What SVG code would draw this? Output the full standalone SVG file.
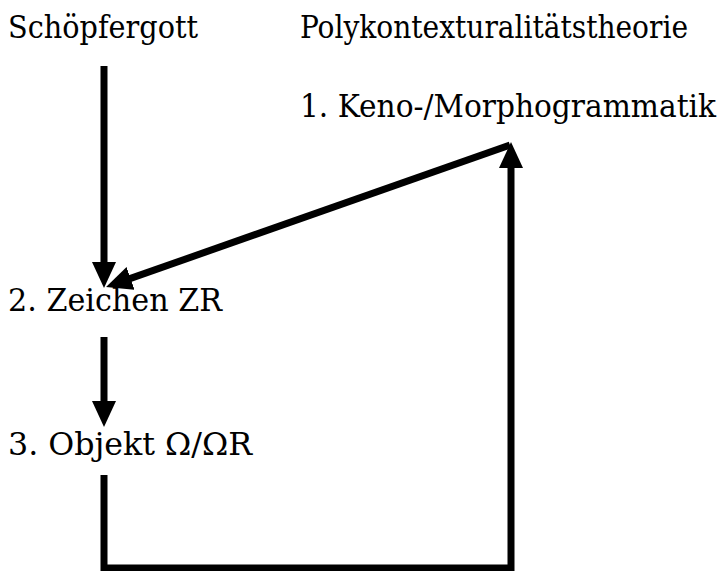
<svg xmlns="http://www.w3.org/2000/svg" width="723" height="571" viewBox="0 0 723 571">
  <style>
    text { font-family: 'DejaVu Serif Condensed', 'DejaVu Serif', serif; font-stretch: condensed; font-size: 31px; fill: #000; }
    .con { fill: none; stroke: #000; stroke-width: 7; stroke-linejoin: miter; stroke-linecap: butt; }
  </style>
  <defs>
    <marker id="ah" viewBox="0 0 26 24" refX="6" refY="12" markerWidth="26" markerHeight="24" markerUnits="userSpaceOnUse" orient="auto">
      <path d="M0,0 L26,12 L0,24 Z" fill="#000"/>
    </marker>
  </defs>
  <rect width="723" height="571" fill="#fff"/>
  <g id="connectors">
    <line class="con" x1="104" y1="66" x2="104" y2="268" marker-end="url(#ah)"/>
    <line class="con" x1="510" y1="145" x2="124.9" y2="280.4" marker-end="url(#ah)"/>
    <line class="con" x1="104" y1="337" x2="104" y2="407" marker-end="url(#ah)"/>
    <polyline class="con" points="104,475 104,568 511,568 511,162" marker-end="url(#ah)"/>
  </g>
  <g id="schoepfergott">
    <text x="8" y="38" textLength="190" lengthAdjust="spacingAndGlyphs">Schöpfergott</text>
  </g>
  <g id="polykontexturalitaetstheorie">
    <text x="300" y="38" textLength="388" lengthAdjust="spacingAndGlyphs">Polykontexturalitätstheorie</text>
  </g>
  <g id="keno">
    <text x="300" y="117" textLength="416" lengthAdjust="spacingAndGlyphs">1. Keno-/Morphogrammatik</text>
  </g>
  <g id="zeichen">
    <text x="8" y="311" textLength="214" lengthAdjust="spacingAndGlyphs">2. Zeichen ZR</text>
  </g>
  <g id="objekt">
    <text x="8" y="455" textLength="244" lengthAdjust="spacingAndGlyphs">3. Objekt Ω/ΩR</text>
  </g>
</svg>
